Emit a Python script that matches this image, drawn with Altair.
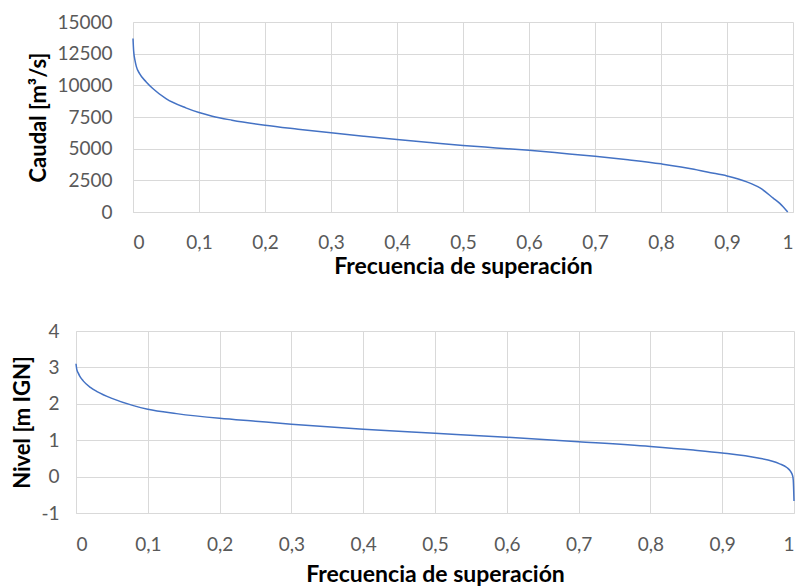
import altair as alt
import pandas as pd

# Curva de duración de caudales
freq_q = [0, 0.001, 0.003, 0.005, 0.01, 0.02, 0.03, 0.05, 0.08, 0.1, 0.12, 0.15,
          0.2, 0.25, 0.3, 0.35, 0.4, 0.45, 0.5, 0.55, 0.6, 0.65, 0.7, 0.75, 0.8,
          0.85, 0.87, 0.9, 0.93, 0.95, 0.97, 0.98, 0.985, 0.99, 0.992]
caudal = [13700, 12700, 11970, 11500, 10920, 10270, 9750, 8950, 8220, 7850, 7560, 7250,
          6850, 6540, 6250, 5980, 5720, 5480, 5250, 5060, 4870, 4640, 4400, 4120, 3800,
          3380, 3150, 2850, 2380, 1900, 1100, 680, 420, 120, 0]

# Curva de duración de niveles
freq_n = [0, 0.001, 0.003, 0.005, 0.01, 0.02, 0.03, 0.05, 0.08, 0.1, 0.14, 0.2, 0.25,
          0.3, 0.4, 0.5, 0.6, 0.7, 0.8, 0.86, 0.9, 0.95, 0.97, 0.98, 0.99, 0.995,
          0.998, 0.999, 1.0]
nivel = [3.10, 2.95, 2.85, 2.77, 2.63, 2.45, 2.33, 2.15, 1.95, 1.85, 1.73, 1.60, 1.52,
         1.44, 1.30, 1.19, 1.08, 0.96, 0.83, 0.73, 0.65, 0.51, 0.42, 0.35, 0.25, 0.15,
         0.03, -0.10, -0.67]

x_ticks = [0, 0.1, 0.2, 0.3, 0.4, 0.5, 0.6, 0.7, 0.8, 0.9, 1]
q_ticks = [0, 2500, 5000, 7500, 10000, 12500, 15000]
n_ticks = [-1, 0, 1, 2, 3, 4]

df_q = pd.DataFrame({"f": freq_q, "v": caudal})
df_n = pd.DataFrame({"f": freq_n, "v": nivel})

FONT = "Lato"
GRID = "#d9d9d9"
LABEL = "#595959"
LINE = "#4472C4"

common = dict(
    grid=True, gridColor=GRID, gridWidth=1,
    domainColor=GRID, domainWidth=1,
    ticks=False, tickSize=0,
    labelFont=FONT, labelFontSize=19, labelColor=LABEL,
    titleFont=FONT, titleFontWeight="bold", titleColor="#000000",
)

x_label_expr = "replace(format(datum.value, '.1~f'), '.', ',')"
y_label_expr = "'' + datum.value"


def make_panel(df, ydomain, yticks, ytitle, width, height, xlab_pad, xtitle_pad,
               ylab_pad, ytitle_pad):
    return alt.Chart(df).mark_line(
        color=LINE, strokeWidth=1.5, interpolate="monotone"
    ).encode(
        x=alt.X("f:Q", scale=alt.Scale(domain=[0, 1], nice=False, zero=False),
                axis=alt.Axis(values=x_ticks, labelExpr=x_label_expr,
                              title="Frecuencia de superación", titleFontSize=23,
                              labelPadding=xlab_pad, titlePadding=xtitle_pad, **common)),
        y=alt.Y("v:Q", scale=alt.Scale(domain=ydomain, nice=False, zero=False),
                axis=alt.Axis(values=yticks, labelExpr=y_label_expr, title=ytitle,
                              titleFontSize=22,
                              labelPadding=ylab_pad, titlePadding=ytitle_pad, **common)),
    ).properties(width=width, height=height)


def spacer(w):
    return alt.Chart(pd.DataFrame({"s": [0]})).mark_point(opacity=0, size=0).encode(
        x=alt.value(0), y=alt.value(0)
    ).properties(width=w, height=1)


top = make_panel(df_q, [0, 15000], q_ticks, "Caudal [m³/s]", 660, 190, 21, 3, 21, 6)
bottom = make_panel(df_n, [-1, 4], n_ticks, "Nivel [m IGN]", 718, 182, 22, 9, 17, 6)

top_row = alt.hconcat(spacer(19), top, spacing=0)
bottom_row = alt.hconcat(spacer(3), bottom, spacing=0)

chart = alt.vconcat(top_row, bottom_row, spacing=44).properties(
    padding={"left": 0, "top": 5, "right": 0, "bottom": 0},
).configure_view(strokeWidth=0)

chart.save("out.html", embed_options={"renderer": "svg", "actions": False})
